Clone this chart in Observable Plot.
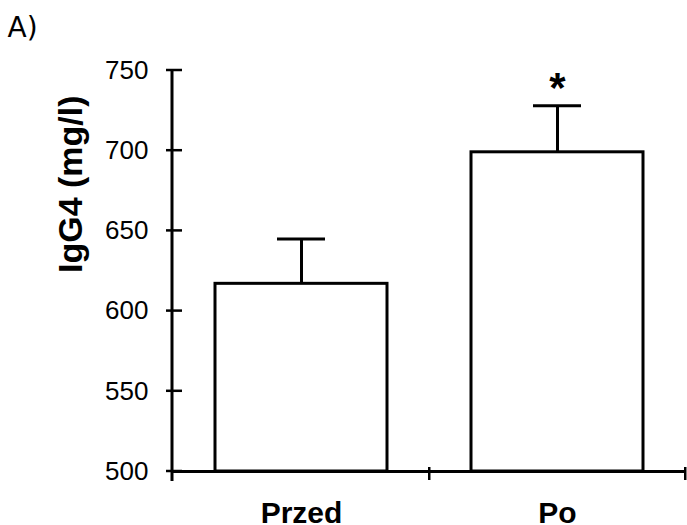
<!DOCTYPE html>
<html>
<head>
<meta charset="utf-8">
<script src="https://cdn.jsdelivr.net/npm/d3@7"></script>
<script src="https://cdn.jsdelivr.net/npm/@observablehq/plot@0.6"></script>
<style>
  html, body { margin: 0; padding: 0; background: #fff; }
  #chart svg { display: block; }
</style>
</head>
<body>
<div id="chart"></div>
<script>
const categories = ["Przed", "Po"];
const means = [617, 699];
const errors = [28, 29];
const significant = [false, true];
const yDomain = [500, 750];
const yTicks = [500, 550, 600, 650, 700, 750];
const yLabel = "IgG4 (mg/l)";
const panelLabel = "A)";

const data = categories.map((c, i) => ({cat: c, value: means[i], err: errors[i], sig: significant[i]}));

const FONT = "'Liberation Sans', Arial, Helvetica, sans-serif";

function axisDecorations(index, scales, values, dims) {
  const x = scales.x, y = scales.y;
  const left = dims.marginLeft;
  const bottom = dims.height - dims.marginBottom;
  const g = d3.create("svg:g").attr("stroke", "black").attr("fill", "none");
  // y-axis line
  g.append("line").attr("x1", left).attr("x2", left)
    .attr("y1", y(yDomain[1])).attr("y2", bottom + 10).attr("stroke-width", 3);
  // y ticks crossing the axis
  for (const t of yTicks) {
    g.append("line").attr("x1", left - 6).attr("x2", left + 10)
      .attr("y1", y(t)).attr("y2", y(t)).attr("stroke-width", 2.5);
  }
  // x ticks at category boundaries
  const gap = x.step() * x.paddingInner() / 2;
  const bounds = categories.map(c => x(c) + x.bandwidth() + gap);
  for (const b of bounds) {
    g.append("line").attr("x1", b).attr("x2", b)
      .attr("y1", bottom - 4).attr("y2", bottom + 9).attr("stroke-width", 2.5);
  }
  return g.node();
}

const chart = Plot.plot({
  width: 687,
  height: 525,
  marginLeft: 172,
  marginRight: 2,
  marginTop: 70,
  marginBottom: 54,
  style: {fontFamily: FONT, fontSize: "26px", color: "black", background: "white"},
  x: {domain: categories, paddingInner: 0.33, paddingOuter: 0.165, axis: null},
  y: {domain: yDomain, axis: null},
  marks: [
    Plot.barY(data, {x: "cat", y1: yDomain[0], y2: "value", fill: "white", stroke: "black", strokeWidth: 3}),
    Plot.ruleX(data, {x: "cat", y1: "value", y2: d => d.value + d.err, stroke: "black", strokeWidth: 3}),
    Plot.tickY(data, {x: "cat", y: d => d.value + d.err, stroke: "black", strokeWidth: 3, inset: 62}),
    Plot.text(data.filter(d => d.sig), {x: "cat", y: d => d.value + d.err, text: () => "*", fontSize: 42, fontWeight: "bold", dy: -17, fill: "black"}),
    Plot.ruleY([yDomain[0]], {stroke: "black", strokeWidth: 3}),
    axisDecorations,
    Plot.axisY({ticks: yTicks, tickSize: 0, tickPadding: 24, fontSize: 26, fill: "black", label: null}),
    Plot.axisX({tickSize: 0, tickPadding: 30, fontSize: 30, fontWeight: "bold", fill: "black", label: null}),
    Plot.text([yLabel], {text: d => d, frameAnchor: "left", rotate: -90, dx: -101, dy: 2, fontSize: 34, fontWeight: "bold", fill: "black"}),
    Plot.text([panelLabel], {text: d => d, frameAnchor: "top-left", textAnchor: "start", lineAnchor: "top", dx: -165, dy: -53, fontSize: 28, fill: "black", fontFamily: "'DejaVu Sans', sans-serif"})
  ]
});

document.getElementById("chart").appendChild(chart);
</script>
</body>
</html>
